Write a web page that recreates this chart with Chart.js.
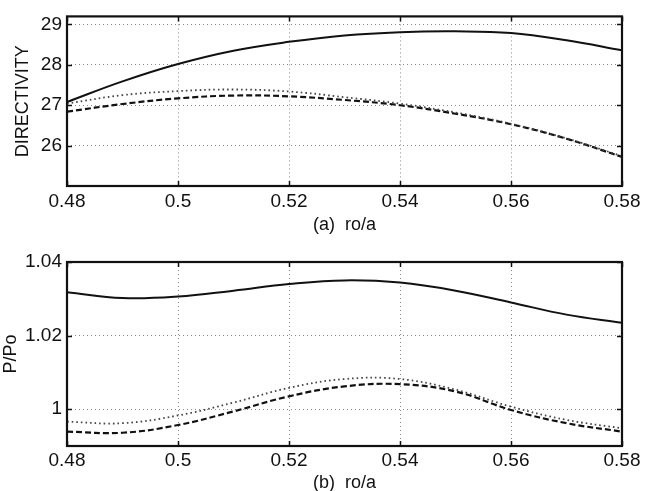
<!DOCTYPE html>
<html>
<head>
<meta charset="utf-8">
<script src="https://cdn.jsdelivr.net/npm/chart.js@4/dist/chart.umd.min.js"></script>
<style>
  html, body { margin: 0; padding: 0; background: #fff; width: 646px; height: 491px; overflow: hidden; }
  .box { position: absolute; left: 0; width: 646px; }
  #boxA { top: 0; height: 240px; }
  #boxB { top: 240px; height: 260px; }
</style>
</head>
<body>
<div class="box" id="boxA"><canvas id="cA"></canvas></div>
<div class="box" id="boxB"><canvas id="cB"></canvas></div>
<script>
// ---- data ----
const roA = [0.48, 0.49, 0.50, 0.51, 0.52, 0.53, 0.54, 0.55, 0.56, 0.57, 0.58];
const xTicks = [0.48, 0.5, 0.52, 0.54, 0.56, 0.58];

const dirSolid  = [27.08, 27.59, 28.02, 28.35, 28.57, 28.73, 28.81, 28.83, 28.79, 28.61, 28.36];
const dirDotted = [27.04, 27.25, 27.35, 27.39, 27.34, 27.20, 27.04, 26.82, 26.54, 26.18, 25.74];
const dirDashed = [26.84, 27.03, 27.17, 27.24, 27.22, 27.13, 27.00, 26.79, 26.53, 26.17, 25.72];
const dirTicks  = [26, 27, 28, 29];

const powSolid  = [1.0318, 1.0302, 1.0306, 1.0322, 1.0340, 1.0350, 1.0344, 1.0322, 1.0290, 1.0257, 1.0235];
const powDotted = [0.9966, 0.9962, 0.9983, 1.0018, 1.0058, 1.0082, 1.0082, 1.0053, 1.0007, 0.9971, 0.9948];
const powDashed = [0.9939, 0.9936, 0.9957, 0.9994, 1.0035, 1.0062, 1.0068, 1.0048, 0.9998, 0.9962, 0.9939];
const powTicks  = [1, 1.02, 1.04];

const FONT = "'Liberation Sans', Arial, Helvetica, sans-serif";

function pts(ys) { return roA.map((x, i) => ({ x: x, y: ys[i] })); }

const framePlugin = {
  id: 'frame',
  afterDatasetsDraw(chart) {
    const { ctx, chartArea: a, scales: { x, y } } = chart;
    ctx.save();
    ctx.strokeStyle = '#111';
    ctx.lineWidth = 1.5;
    x.ticks.forEach(t => {
      const px = Math.round(x.getPixelForValue(t.value)) + 0.5;
      ctx.beginPath();
      ctx.moveTo(px, a.bottom); ctx.lineTo(px, a.bottom - 5);
      ctx.moveTo(px, a.top); ctx.lineTo(px, a.top + 5);
      ctx.stroke();
    });
    y.ticks.forEach(t => {
      const py = Math.round(y.getPixelForValue(t.value)) + 0.5;
      ctx.beginPath();
      ctx.moveTo(a.left, py); ctx.lineTo(a.left + 5, py);
      ctx.moveTo(a.right, py); ctx.lineTo(a.right - 5, py);
      ctx.stroke();
    });
    ctx.lineWidth = 2.2;
    ctx.strokeRect(a.left, a.top, a.right - a.left, a.bottom - a.top);
    ctx.restore();
  }
};

function makeChart(id, series, yMin, yMax, yTicks, yTitle, yTitlePad, xTitle, padTop, xAxisH, xTickPad, xTitlePadBottom) {
  const styles = [
    { borderColor: '#111', borderWidth: 2, borderDash: [] },
    { borderColor: '#444', borderWidth: 1.8, borderDash: [1.6, 3] },
    { borderColor: '#111', borderWidth: 2.2, borderDash: [6, 3] }
  ];
  return new Chart(document.getElementById(id), {
    type: 'line',
    data: {
      datasets: series.map((s, i) => Object.assign({
        data: pts(s),
        pointRadius: 0,
        tension: 0.4,
        fill: false
      }, styles[i]))
    },
    options: {
      responsive: true,
      maintainAspectRatio: false,
      animation: false,
      events: [],
      layout: { padding: { top: padTop, left: 0, right: 24, bottom: 0 } },
      plugins: { legend: { display: false }, tooltip: { enabled: false } },
      scales: {
        x: {
          type: 'linear',
          min: 0.48, max: 0.58,
          afterBuildTicks: s => { s.ticks = xTicks.map(v => ({ value: v })); },
          afterFit: s => { s.height = xAxisH; },
          ticks: {
            color: '#111', padding: xTickPad, maxRotation: 0, autoSkip: false,
            font: { family: FONT, size: 19 },
            callback: v => String(v)
          },
          grid: { color: '#8a8a8a', lineWidth: 1, drawTicks: false },
          border: { display: false, dash: [1, 3] },
          title: {
            display: true, text: xTitle, color: '#111',
            font: { family: FONT, size: 18 },
            padding: { top: 0, bottom: xTitlePadBottom }
          }
        },
        y: {
          type: 'linear',
          min: yMin, max: yMax,
          afterBuildTicks: s => { s.ticks = yTicks.map(v => ({ value: v })); },
          afterFit: s => { s.width = 67; },
          ticks: {
            color: '#111', padding: 5,
            font: { family: FONT, size: 19 },
            callback: v => String(v)
          },
          grid: { color: '#8a8a8a', lineWidth: 1, drawTicks: false },
          border: { display: false, dash: [1, 3] },
          title: {
            display: true, text: yTitle, color: '#111',
            font: { family: FONT, size: 18 },
            padding: { top: yTitlePad, bottom: 0 }
          }
        }
      }
    },
    plugins: [framePlugin]
  });
}

makeChart('cA', [dirSolid, dirDotted, dirDashed], 25, 29.2, dirTicks, 'DIRECTIVITY', 12, '(a)  ro/a', 7, 54, 4, 4);
makeChart('cB', [powSolid, powDotted, powDashed], 0.99, 1.04, powTicks, 'P/Po', 0, '(b)  ro/a', 22, 54, 3, 6);
</script>
</body>
</html>
